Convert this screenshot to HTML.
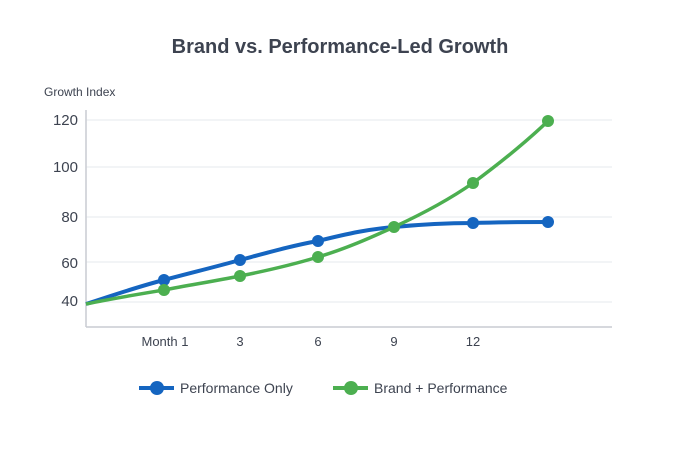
<!DOCTYPE html>
<html><head><style>body{margin:0;background:#fff}</style></head><body>
<svg width="700" height="450" xmlns="http://www.w3.org/2000/svg" font-family="Liberation Sans, sans-serif">
<rect width="700" height="450" fill="#fff"/>
<text x="340" y="53" text-anchor="middle" font-size="20" font-weight="bold" fill="#3d4350">Brand vs. Performance-Led Growth</text>
<text x="44" y="96" font-size="12" fill="#3d4350">Growth Index</text>
<g stroke="#e6e8ec" stroke-width="1">
<line x1="86" y1="120" x2="612" y2="120"/><line x1="86" y1="167" x2="612" y2="167"/>
<line x1="86" y1="217" x2="612" y2="217"/><line x1="86" y1="262" x2="612" y2="262"/>
<line x1="86" y1="302" x2="612" y2="302"/></g>
<g stroke="#c9ccd2" stroke-width="1.5"><line x1="86" y1="110" x2="86" y2="327"/><line x1="86" y1="327" x2="612" y2="327"/></g>
<g font-size="15" fill="#3d4350" text-anchor="end">
<text x="78" y="125">120</text><text x="78" y="172">100</text><text x="78" y="222">80</text><text x="78" y="268">60</text><text x="78" y="306">40</text></g>
<g font-size="13" fill="#3d4350" text-anchor="middle">
<text x="165" y="346">Month 1</text><text x="240" y="346">3</text><text x="318" y="346">6</text><text x="394" y="346">9</text><text x="473" y="346">12</text></g>
<path d="M86,304 C120,293 140,286 164,280 C190,273 215,267 240,260 C270,252 295,245 318,241 C350,233 370,229 394,227 C425,224 450,223 473,223 C500,222 525,222 548,222" fill="none" stroke="#1565c0" stroke-width="4"/>
<g fill="#1565c0"><circle cx="164" cy="280" r="6"/><circle cx="240" cy="260" r="6"/><circle cx="318" cy="241" r="6"/><circle cx="473" cy="223" r="6"/><circle cx="548" cy="222" r="6"/></g>
<path d="M86,304 C115,298 140,294 164,290 C190,285 215,281 240,276 C270,270 295,264 318,257 C345,249 370,238 394,227 C420,215 450,199 473,183 C500,163 525,143 548,121" fill="none" stroke="#4caf50" stroke-width="3.5"/>
<g fill="#4caf50"><circle cx="164" cy="290" r="6"/><circle cx="240" cy="276" r="6"/><circle cx="318" cy="257" r="6"/><circle cx="394" cy="227" r="6"/><circle cx="473" cy="183" r="6"/><circle cx="548" cy="121" r="6"/></g>
<line x1="139" y1="388" x2="174" y2="388" stroke="#1565c0" stroke-width="4"/><circle cx="157" cy="388" r="7" fill="#1565c0"/>
<text x="180" y="393" font-size="14" fill="#3d4350">Performance Only</text>
<line x1="333" y1="388" x2="368" y2="388" stroke="#4caf50" stroke-width="4"/><circle cx="351" cy="388" r="7" fill="#4caf50"/>
<text x="374" y="393" font-size="14" fill="#3d4350">Brand + Performance</text>
</svg>
</body></html>
